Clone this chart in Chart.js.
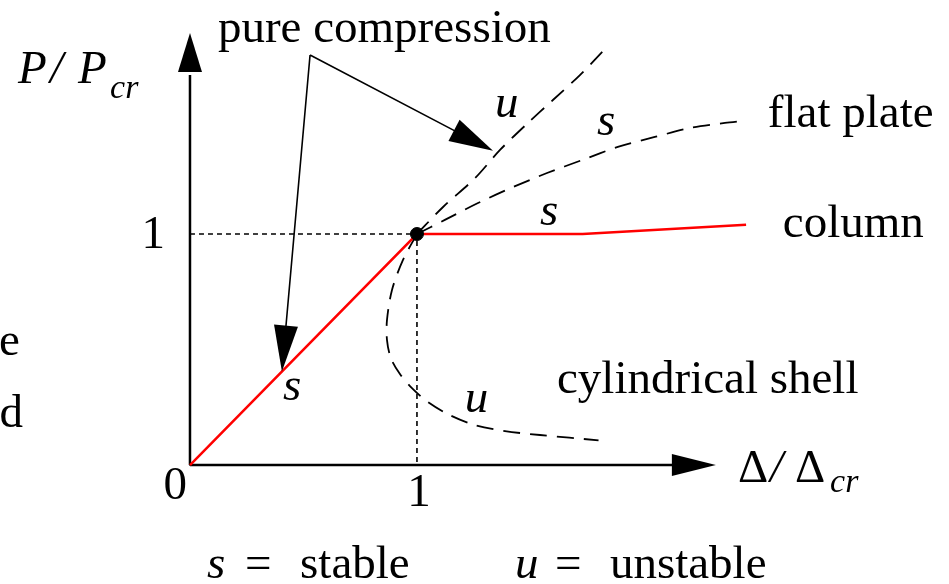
<!DOCTYPE html>
<html lang="en">
<head>
<meta charset="UTF-8">
<title>Post-buckling paths</title>
<script src="https://cdn.jsdelivr.net/npm/chart.js"></script>
<style>
  html, body { margin: 0; padding: 0; background: #fff; }
  canvas { display: block; }
</style>
</head>
<body>
<canvas id="bucklingChart" width="949" height="584"></canvas>
<script>
// Normalised deflection (Δ/Δcr) against normalised load (P/Pcr) for each path
const columnX = [0, 1, 1.73, 2.45];
const columnY = [0, 1, 1, 1.04];
const plateX = [1, 1.123, 1.269, 1.423, 1.573, 1.727, 1.885, 2.048, 2.203, 2.357, 2.44];
const plateY = [1, 1.061, 1.134, 1.203, 1.264, 1.320, 1.377, 1.420, 1.459, 1.481, 1.490];
const unstableX = [1, 1.115, 1.256, 1.366, 1.489, 1.599, 1.718, 1.845];
const unstableY = [1, 1.117, 1.242, 1.364, 1.481, 1.580, 1.688, 1.818];
const shellX = [1, 0.938, 0.890, 0.868, 0.868, 0.885, 0.925, 0.978, 1.048, 1.145, 1.256, 1.388, 1.542, 1.80];
const shellY = [1, 0.887, 0.758, 0.628, 0.541, 0.463, 0.394, 0.333, 0.273, 0.216, 0.173, 0.147, 0.130, 0.107];
// dotted box marking the critical point
const guideX = [0, 1, 1, 0, 0];
const guideY = [1, 1, 0, 0, 1];
const criticalX = [1];
const criticalY = [1];
const xTickValues = [0, 1];
const xTickLabels = ['0', '1'];
const yTickValues = [1];
const yTickLabels = ['1'];

const pts = (xs, ys) => xs.map((x, i) => ({ x: x, y: ys[i] }));

const SERIF = '"Liberation Serif", "Times New Roman", serif';

function arrowHead(ctx, fx, fy, tx, ty, len, half) {
  const a = Math.atan2(ty - fy, tx - fx);
  const bx = tx - len * Math.cos(a), by = ty - len * Math.sin(a);
  ctx.beginPath();
  ctx.moveTo(tx, ty);
  ctx.lineTo(bx + half * Math.sin(a), by - half * Math.cos(a));
  ctx.lineTo(bx - half * Math.sin(a), by + half * Math.cos(a));
  ctx.closePath();
  ctx.fill();
}

function text(ctx, str, x, y, size, italic, align) {
  ctx.font = (italic ? 'italic ' : '') + size + 'px ' + SERIF;
  ctx.textAlign = align || 'left';
  ctx.textBaseline = 'alphabetic';
  ctx.fillText(str, x, y);
}

// axes with arrowheads, drawn under the paths
const axesPlugin = {
  id: 'axes',
  beforeDatasetsDraw(chart) {
    const { ctx, scales: { x, y } } = chart;
    const x0 = x.getPixelForValue(0), y0 = y.getPixelForValue(0);
    const yTop = y.getPixelForValue(1.87), xEnd = x.getPixelForValue(2.317);
    ctx.save();
    ctx.strokeStyle = '#000';
    ctx.fillStyle = '#000';
    ctx.lineWidth = 2.5;
    ctx.beginPath();
    ctx.moveTo(x0, y0);
    ctx.lineTo(x0, yTop + 42);
    ctx.moveTo(x0, y0);
    ctx.lineTo(xEnd - 42, y0);
    ctx.stroke();
    arrowHead(ctx, x0, y0, x0, yTop, 39, 12);
    arrowHead(ctx, x0, y0, xEnd, y0, 44, 11);
    ctx.restore();
  }
};

// labels, ticks and the "pure compression" pointers
const labelPlugin = {
  id: 'labels',
  afterDatasetsDraw(chart) {
    const { ctx, scales: { x, y } } = chart;
    const X = v => x.getPixelForValue(v), Y = v => y.getPixelForValue(v);
    ctx.save();
    ctx.fillStyle = '#000';
    ctx.strokeStyle = '#000';

    // pointers from the "pure compression" note
    const bx = X(0.529), by = Y(1.775);
    const t1x = X(0.405), t1y = Y(0.405);
    const t2x = X(1.335), t2y = Y(1.36);
    ctx.lineWidth = 1.6;
    ctx.beginPath();
    ctx.moveTo(bx, by);
    ctx.lineTo(t1x + (bx - t1x) * 0.12, t1y + (by - t1y) * 0.12);
    ctx.moveTo(bx, by);
    ctx.lineTo(t2x + (bx - t2x) * 0.18, t2y + (by - t2y) * 0.18);
    ctx.stroke();
    arrowHead(ctx, bx, by, t1x, t1y, 46, 12);
    arrowHead(ctx, bx, by, t2x, t2y, 44, 12);

    text(ctx, 'pure compression', X(0.123), Y(1.831), 47, false);

    // y axis title P/Pcr
    text(ctx, 'P', X(-0.758), Y(1.654), 47, true);
    text(ctx, '/', X(-0.617), Y(1.654), 47, true);
    text(ctx, 'P', X(-0.493), Y(1.654), 47, true);
    text(ctx, 'cr', X(-0.352), Y(1.589), 34, true);

    // x axis title Δ/Δcr
    text(ctx, 'Δ', X(2.414), Y(-0.074), 47, false);
    text(ctx, '/', X(2.555), Y(-0.074), 47, true);
    text(ctx, 'Δ', X(2.665), Y(-0.074), 47, false);
    text(ctx, 'cr', X(2.82), Y(-0.117), 34, true);

    // ticks
    text(ctx, xTickLabels[0], X(xTickValues[0]) - 3, Y(0) + 34, 47, false, 'right');
    text(ctx, xTickLabels[1], X(xTickValues[1]) + 2, Y(0) + 41, 47, false, 'center');
    text(ctx, yTickLabels[0], X(0) - 25, Y(yTickValues[0]) + 14, 47, false, 'right');

    // path names
    text(ctx, 'flat plate', X(2.546), Y(1.463), 47, false);
    text(ctx, 'column', X(2.612), Y(0.987), 47, false);
    text(ctx, 'cylindrical shell', X(1.617), Y(0.312), 47, false);

    // stability marks
    text(ctx, 'u', X(1.344), Y(1.506), 47, true);
    text(ctx, 's', X(1.793), Y(1.429), 47, true);
    text(ctx, 's', X(1.542), Y(1.039), 47, true);
    text(ctx, 's', X(0.410), Y(0.281), 47, true);
    text(ctx, 'u', X(1.211), Y(0.229), 47, true);

    // key
    text(ctx, 's', X(0.075), Y(-0.489), 47, true);
    text(ctx, '=', X(0.242), Y(-0.489), 47, false);
    text(ctx, 'stable', X(0.485), Y(-0.489), 47, false);
    text(ctx, 'u', X(1.432), Y(-0.489), 47, true);
    text(ctx, '=', X(1.608), Y(-0.489), 47, false);
    text(ctx, 'unstable', X(1.850), Y(-0.489), 47, false);

    // text cut off at the left edge
    text(ctx, 'e', X(-0.841), Y(0.476), 47, false);
    text(ctx, 'd', X(-0.839), Y(0.165), 47, false);
    ctx.restore();
  }
};

const dashed = { borderColor: '#000', borderWidth: 1.8, borderDash: [17, 10], tension: 0.3, pointRadius: 0, fill: false, showLine: true };

new Chart(document.getElementById('bucklingChart'), {
  type: 'scatter',
  data: {
    datasets: [
      { label: 'critical point', data: pts(criticalX, criticalY), pointRadius: 6.5, backgroundColor: '#000', borderColor: '#000', showLine: false },
      { label: 'column', data: pts(columnX, columnY), borderColor: '#ff0000', borderWidth: 2.5, pointRadius: 0, showLine: true, tension: 0 },
      Object.assign({ label: 'flat plate', data: pts(plateX, plateY) }, dashed),
      Object.assign({ label: 'unstable branch', data: pts(unstableX, unstableY) }, dashed),
      Object.assign({ label: 'cylindrical shell', data: pts(shellX, shellY) }, dashed),
      { label: 'guides', data: pts(guideX, guideY), borderColor: '#000', borderWidth: 1.6, borderDash: [5, 4], pointRadius: 0, showLine: true, tension: 0 }
    ]
  },
  options: {
    responsive: false,
    animation: false,
    events: [],
    devicePixelRatio: 1,
    layout: { padding: 0, autoPadding: false },
    scales: {
      x: { type: 'linear', min: -0.837, max: 3.344, display: false },
      y: { type: 'linear', min: -0.515, max: 2.013, display: false }
    },
    plugins: { legend: { display: false }, tooltip: { enabled: false } }
  },
  plugins: [axesPlugin, labelPlugin]
});
</script>
</body>
</html>
